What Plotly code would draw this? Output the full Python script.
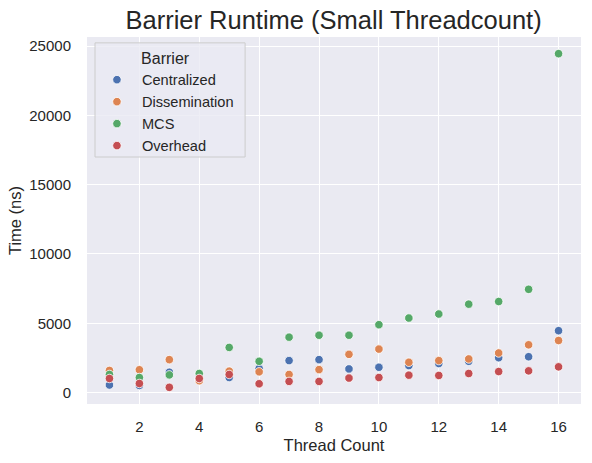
import plotly.graph_objects as go

threads = list(range(1, 17))

centralized = [550, 520, 1470, 950, 1090, 1740, 2310, 2380,
               1710, 1830, 1950, 2100, 2260, 2520, 2590, 4470]
dissemination = [1600, 1650, 2380, 860, 1550, 1500, 1310, 1660,
                 2760, 3140, 2190, 2310, 2430, 2860, 3450, 3760]
mcs = [1310, 1090, 1280, 1380, 3260, 2260, 4000, 4140,
       4140, 4900, 5380, 5670, 6380, 6570, 7450, 24450]
overhead = [1020, 660, 380, 1020, 1310, 640, 810, 810,
            1050, 1090, 1260, 1240, 1380, 1520, 1570, 1860]

series = [
    ("Centralized", centralized, "#4C72B0"),
    ("Dissemination", dissemination, "#DD8452"),
    ("MCS", mcs, "#55A868"),
    ("Overhead", overhead, "#C44E52"),
]

x_ticks = [2, 4, 6, 8, 10, 12, 14, 16]
y_ticks = [0, 5000, 10000, 15000, 20000, 25000]
y_labels = [str(v) for v in y_ticks]

FONT = "Liberation Sans, Arial, sans-serif"
TEXT = "#262626"

fig = go.Figure()
for name, vals, col in series:
    fig.add_trace(go.Scatter(
        x=threads, y=vals, mode="markers", name=name,
        marker=dict(color=col, size=8.5, line=dict(color="white", width=0.8)),
    ))

fig.update_layout(
    width=592, height=463,
    margin=dict(l=87, r=11, t=37, b=59),
    paper_bgcolor="white",
    plot_bgcolor="#EAEAF2",
    font=dict(family=FONT, color=TEXT, size=15),
    title=dict(text="Barrier Runtime (Small Threadcount)",
               x=0.5635, xanchor="center", y=0.956, yanchor="middle",
               font=dict(size=25.5, color=TEXT)),
    legend=dict(
        title=dict(text="Barrier", side="top center", font=dict(size=16)),
        x=0.01, y=0.984, xanchor="left", yanchor="top",
        bgcolor="rgba(0,0,0,0)", borderwidth=0,
        font=dict(size=14.6), itemwidth=40,
    ),
    showlegend=True,
)

# legend frame, matplotlib style
fig.add_shape(type="rect", xref="paper", yref="paper",
              x0=0.0162, x1=0.320, y0=0.673, y1=0.984,
              fillcolor="rgba(234,234,242,0.8)",
              line=dict(color="#CCCCCC", width=1), layer="above")

fig.update_xaxes(
    range=[0.25, 16.75], tickvals=x_ticks, showline=False, zeroline=False,
    gridcolor="white", gridwidth=1.3, ticks="outside", ticklen=9,
    tickcolor="rgba(0,0,0,0)",
    tickfont=dict(size=15), automargin=False,
    title=dict(text="Thread Count", font=dict(size=16.5), standoff=5),
)
fig.update_yaxes(
    range=[-820, 25650], tickvals=y_ticks, ticktext=y_labels,
    showline=False, zeroline=False,
    gridcolor="white", gridwidth=1.3, ticks="outside", ticklen=12,
    tickcolor="rgba(0,0,0,0)",
    tickfont=dict(size=15), automargin=False,
    title=dict(text="Time (ns)", font=dict(size=16.5), standoff=3),
)

# drop the default body margin so the figure fills the window
fig.write_html("out.html", config={"displayModeBar": False},
               post_script="document.body.style.margin='0';")
